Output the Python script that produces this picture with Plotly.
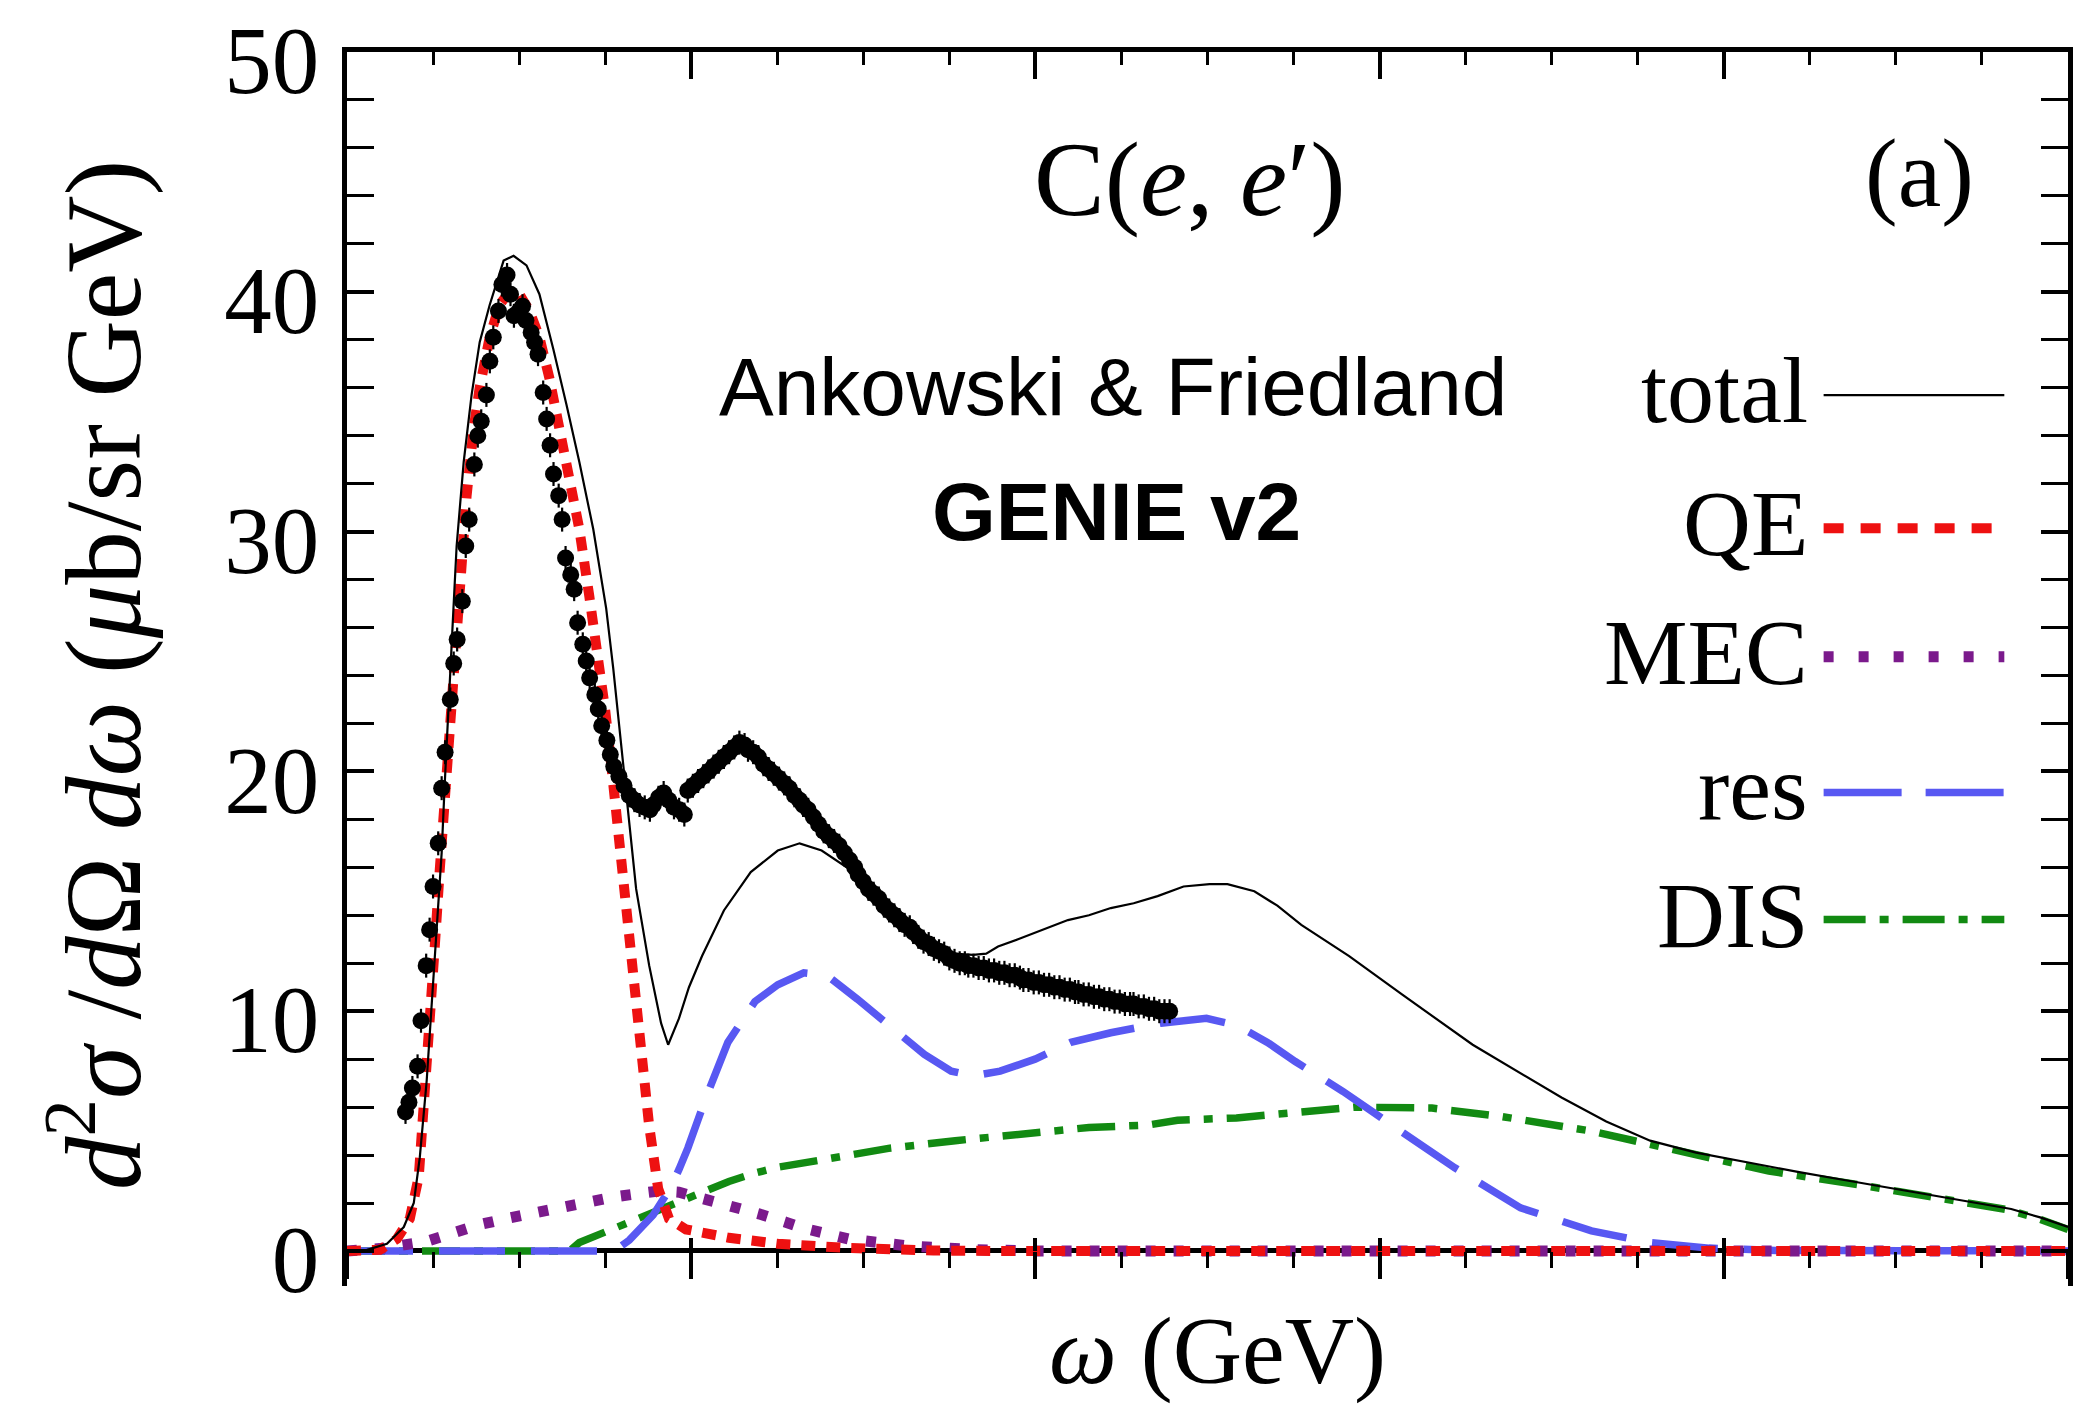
import plotly.graph_objects as go

# ---------------- data (omega in GeV, d2sigma/dOmega domega in mub/sr GeV) ----------------
omega_total = [0.000, 0.0116, 0.0232, 0.0330, 0.0388, 0.0423, 0.0463, 0.0492, 0.0521, 0.0550,
               0.0568, 0.0597, 0.0620, 0.0637, 0.0678, 0.0724, 0.0771, 0.0829, 0.0910, 0.0968,
               0.1043, 0.1118, 0.1199, 0.1275, 0.1350, 0.1431, 0.1506, 0.1547, 0.1582, 0.1622,
               0.1680, 0.1756, 0.1825, 0.1866, 0.1929, 0.1987, 0.2063, 0.2190, 0.2346, 0.2503,
               0.2630, 0.2758, 0.2862, 0.2966, 0.3071, 0.3175, 0.3273, 0.3378, 0.3523, 0.3638,
               0.3714, 0.3783, 0.3899, 0.4050, 0.4189, 0.4311, 0.4438, 0.4571, 0.4710, 0.4861,
               0.5012, 0.5116, 0.5272, 0.5406, 0.5545, 0.5823, 0.6130, 0.6541, 0.6796, 0.7057,
               0.7317, 0.7572, 0.7839, 0.8088, 0.8430, 0.8708, 0.8946, 0.9229, 0.9461, 0.9670,
               0.9838, 1.0000]
xs_total = [0.0, 0.05, 0.3, 1.0, 2.0, 3.9, 7.1, 10.3, 13.5, 16.6,
            19.5, 24.0, 27.0, 29.4, 32.9, 35.7, 37.9, 39.45, 41.3, 41.5,
            41.1, 39.9, 37.6, 35.3, 32.9, 30.1, 26.8, 24.3, 21.8, 19.0,
            15.1, 11.9, 9.5, 8.6, 9.7, 11.0, 12.3, 14.2, 15.8, 16.7,
            17.0, 16.7, 16.2, 15.7, 14.8, 14.0, 13.4, 12.9, 12.4, 12.35,
            12.4, 12.7, 13.0, 13.4, 13.8, 14.0, 14.3, 14.5, 14.8, 15.2,
            15.3, 15.3, 15.0, 14.4, 13.6, 12.3, 10.7, 8.6, 7.5, 6.4,
            5.4, 4.6, 4.1, 3.75, 3.3, 2.95, 2.65, 2.3, 2.0, 1.75,
            1.4, 1.0]

omega_qe = [0.000, 0.0191, 0.0290, 0.0365, 0.0417, 0.0452, 0.0481, 0.0510, 0.0539, 0.0568,
            0.0597, 0.0620, 0.0655, 0.0695, 0.0736, 0.0771, 0.0829, 0.0886, 0.0944, 0.1002,
            0.1060, 0.1118, 0.1176, 0.1234, 0.1292, 0.1350, 0.1408, 0.1466, 0.1501, 0.1535,
            0.1576, 0.1622, 0.1669, 0.1721, 0.1756, 0.1808, 0.1871, 0.1970, 0.2219, 0.2503,
            0.2891, 0.3407, 0.3783, 1.0000]
xs_qe = [0.0, 0.05, 0.5, 1.35, 3.1, 6.3, 9.5, 12.7, 15.9, 19.0,
         22.0, 24.6, 28.7, 31.5, 34.3, 36.0, 38.1, 39.45, 40.0, 39.9,
         39.2, 38.1, 36.4, 34.3, 32.2, 30.1, 27.3, 24.6, 22.5, 20.3,
         17.4, 14.3, 11.1, 7.9, 5.2, 2.6, 1.35, 0.9, 0.55, 0.3,
         0.13, 0.02, 0.0, 0.0]

omega_mec = [0.000, 0.0191, 0.0463, 0.0620, 0.0771, 0.0927, 0.1083, 0.1234, 0.1390, 0.1547,
             0.1698, 0.1813, 0.1929, 0.2063, 0.2242, 0.2393, 0.2549, 0.2654, 0.2914, 0.3273,
             0.3662, 0.4015, 1.0000]
xs_mec = [0.0, 0.1, 0.4, 0.8, 1.1, 1.35, 1.6, 1.85, 2.05, 2.25,
          2.4, 2.5, 2.45, 2.2, 1.9, 1.55, 1.2, 0.95, 0.5, 0.2,
          0.05, 0.0, 0.0]

omega_res = [0.000, 0.1506, 0.1582, 0.1640, 0.1779, 0.1877, 0.1929, 0.1981, 0.2086, 0.2213,
             0.2370, 0.2503, 0.2654, 0.2787, 0.2966, 0.3175, 0.3355, 0.3511, 0.3638, 0.3795,
             0.3998, 0.4206, 0.4438, 0.4728, 0.4994, 0.5174, 0.5348, 0.5510, 0.5788, 0.6095,
             0.6437, 0.6819, 0.7231, 0.7572, 0.7914, 0.8302, 1.0000]
xs_res = [0.0, 0.0, 0.15, 0.45, 1.5, 2.6, 3.4, 4.3, 6.4, 8.7,
          10.4, 11.1, 11.6, 11.5, 10.5, 9.3, 8.2, 7.5, 7.3, 7.5,
          8.0, 8.7, 9.1, 9.5, 9.7, 9.4, 8.7, 7.9, 6.65, 5.13,
          3.47, 1.8, 0.84, 0.35, 0.12, 0.02, 0.0]

omega_dis = [0.000, 0.1292, 0.1350, 0.1506, 0.1640, 0.1779, 0.1929, 0.2086, 0.2219, 0.2370,
             0.2509, 0.2758, 0.3146, 0.3534, 0.3922, 0.4311, 0.4652, 0.4826, 0.5168, 0.5498,
             0.5857, 0.6304, 0.6715, 0.7231, 0.7746, 0.8262, 0.8778, 0.9293, 0.9635, 0.9809,
             1.0000]
xs_dis = [0.0, 0.0, 0.35, 0.8, 1.25, 1.65, 2.1, 2.55, 2.9, 3.25,
          3.5, 3.8, 4.28, 4.6, 4.85, 5.15, 5.25, 5.45, 5.55, 5.8,
          6.0, 5.96, 5.6, 5.0, 4.16, 3.33, 2.77, 2.15, 1.74, 1.4,
          0.9]

omega_data = [0.034, 0.036, 0.038, 0.041, 0.043, 0.046, 0.048, 0.050, 0.053, 0.055,
              0.057, 0.060, 0.062, 0.064, 0.067, 0.069, 0.071, 0.074, 0.076, 0.078,
              0.081, 0.083, 0.085, 0.088, 0.090, 0.093, 0.095, 0.097, 0.100, 0.102,
              0.104, 0.107, 0.109, 0.111, 0.114, 0.116, 0.118, 0.120, 0.123, 0.125,
              0.127, 0.130, 0.132, 0.134, 0.137, 0.139, 0.141, 0.144, 0.146, 0.148,
              0.151, 0.153, 0.155, 0.158, 0.161, 0.164, 0.167, 0.170, 0.173, 0.176,
              0.178, 0.181, 0.184, 0.187, 0.190, 0.193, 0.196, 0.198, 0.201, 0.204,
              0.207, 0.210, 0.213, 0.216, 0.219, 0.222, 0.225, 0.228, 0.231, 0.233,
              0.236, 0.239, 0.242, 0.245, 0.248, 0.251, 0.254, 0.257, 0.260, 0.263,
              0.265, 0.268, 0.271, 0.274, 0.277, 0.280, 0.283, 0.286, 0.289, 0.292,
              0.295, 0.297, 0.300, 0.303, 0.306, 0.309, 0.312, 0.315, 0.318, 0.321,
              0.324, 0.327, 0.329, 0.332, 0.335, 0.338, 0.341, 0.344, 0.347, 0.350,
              0.353, 0.356, 0.359, 0.361, 0.364, 0.367, 0.370, 0.373, 0.376, 0.379,
              0.382, 0.385, 0.388, 0.391, 0.393, 0.396, 0.399, 0.402, 0.405, 0.408,
              0.411, 0.414, 0.417, 0.420, 0.423, 0.425, 0.428, 0.431, 0.434, 0.437,
              0.440, 0.443, 0.446, 0.449, 0.452, 0.455, 0.457, 0.460, 0.463, 0.466,
              0.469, 0.472, 0.475, 0.478]
xs_data = [5.8, 6.2, 6.8, 7.7, 9.6, 11.9, 13.4, 15.2, 17.0, 19.3,
           20.8, 23.0, 24.5, 25.5, 27.1, 29.4, 30.5, 32.8, 34.0, 34.6,
           35.7, 37.1, 38.1, 39.2, 40.3, 40.7, 39.9, 39.0, 39.2, 39.4,
           38.8, 38.3, 37.9, 37.4, 35.8, 34.7, 33.6, 32.4, 31.5, 30.5,
           28.9, 28.2, 27.6, 26.2, 25.3, 24.6, 23.9, 23.2, 22.6, 21.9,
           21.3, 20.7, 20.2, 19.8, 19.4, 19.0, 18.8, 18.6, 18.5, 18.4,
           18.6, 18.9, 19.1, 18.8, 18.5, 18.4, 18.2, 19.2, 19.4, 19.6,
           19.8, 20.0, 20.2, 20.4, 20.6, 20.8, 21.0, 21.2, 21.1, 20.9,
           20.8, 20.6, 20.3, 20.1, 19.9, 19.7, 19.5, 19.3, 19.0, 18.8,
           18.6, 18.4, 18.1, 17.8, 17.5, 17.3, 17.1, 16.9, 16.6, 16.3,
           16.0, 15.7, 15.4, 15.1, 14.9, 14.7, 14.4, 14.2, 14.0, 13.8,
           13.6, 13.5, 13.3, 13.1, 12.9, 12.8, 12.6, 12.5, 12.4, 12.2,
           12.1, 12.0, 12.0, 11.9, 11.9, 11.8, 11.8, 11.7, 11.7, 11.6,
           11.6, 11.5, 11.5, 11.4, 11.3, 11.3, 11.2, 11.2, 11.1, 11.1,
           11.0, 11.0, 10.9, 10.9, 10.8, 10.8, 10.7, 10.7, 10.6, 10.6,
           10.5, 10.5, 10.4, 10.4, 10.3, 10.3, 10.3, 10.2, 10.2, 10.1,
           10.1, 10.0, 10.0, 10.0]

y_ticks = [0, 10, 20, 30, 40, 50]
legend_labels = ["total", "QE", "MEC", "res", "DIS"]

# ---------------- styles ----------------
X_RANGE = [0.0, 1.0]
Y_RANGE = [-1.46, 50.0]
SERIF = "Liberation Serif"
SANS = "Liberation Sans"

styles = {
    "total": dict(color="black", width=2.2, dash="solid"),
    "QE": dict(color="#ee1111", width=10, dash="14px,11px"),
    "MEC": dict(color="#7b1a8c", width=11, dash="10px,18px"),
    "res": dict(color="#5858f2", width=7.5, dash="66px,26px"),
    "DIS": dict(color="#128a12", width=7.5, dash="38px,14px,9px,14px"),
}
legend_dash = {
    "total": "solid",
    "QE": "20px,17px",
    "MEC": "10px,25px",
    "res": "78px,24px",
    "DIS": "42px,14px,9px,14px",
}

fig = go.Figure()

series = [
    ("DIS", omega_dis, xs_dis),
    ("res", omega_res, xs_res),
    ("MEC", omega_mec, xs_mec),
    ("QE", omega_qe, xs_qe),
]
for name, xv, yv in series:
    fig.add_trace(go.Scatter(x=xv, y=yv, mode="lines", name=name,
                             line=styles[name], showlegend=False, hoverinfo="skip"))

fig.add_trace(go.Scatter(
    x=omega_data, y=xs_data, mode="markers", name="data", showlegend=False,
    marker=dict(color="black", size=17, symbol="circle"),
    error_y=dict(type="constant", value=0.5, color="black", thickness=2.2, width=0),
    hoverinfo="skip"))

fig.add_trace(go.Scatter(x=omega_total, y=xs_total, mode="lines", name="total",
                         line=styles["total"], showlegend=False, hoverinfo="skip"))

# helper traces so that the tick-only axes at y = 0 exist
for ax in ("x2", "x3"):
    fig.add_trace(go.Scatter(x=X_RANGE, y=[None, None], xaxis=ax, yaxis="y",
                             mode="lines", showlegend=False, hoverinfo="skip"))

zero_pos = (0 - Y_RANGE[0]) / (Y_RANGE[1] - Y_RANGE[0])

fig.update_layout(
    width=2080, height=1405,
    margin=dict(l=347, r=7, t=52, b=119, pad=0),
    paper_bgcolor="white", plot_bgcolor="white",
    font=dict(family=SERIF, color="black"),
    xaxis=dict(range=X_RANGE, side="top", showline=True, linecolor="black", linewidth=4.5,
               mirror=False, ticks="inside", ticklen=27, tickwidth=3.5, tickcolor="black",
               tick0=0, dtick=0.2, showticklabels=False, showgrid=False, zeroline=False,
               minor=dict(dtick=0.05, ticks="inside", ticklen=13, tickwidth=3, tickcolor="black",
                          showgrid=False)),
    xaxis2=dict(range=X_RANGE, overlaying="x", anchor="free", position=zero_pos, side="bottom",
                showline=False, ticks="outside", ticklen=27, tickwidth=3.5, tickcolor="black",
                tick0=0, dtick=0.2, showticklabels=False, showgrid=False, zeroline=False,
                minor=dict(dtick=0.05, ticks="outside", ticklen=16, tickwidth=3, tickcolor="black",
                           showgrid=False)),
    xaxis3=dict(range=X_RANGE, overlaying="x", anchor="free", position=zero_pos, side="bottom",
                showline=False, ticks="inside", ticklen=13, tickwidth=3.5, tickcolor="black",
                tick0=0, dtick=0.2, showticklabels=False, showgrid=False, zeroline=False),
    yaxis=dict(range=Y_RANGE, showline=True, linecolor="black", linewidth=4.5, mirror="allticks",
               ticks="inside", ticklen=27, tickwidth=3.5, tickcolor="black",
               tickvals=y_ticks, ticktext=[str(v) for v in y_ticks],
               tickfont=dict(family=SERIF, size=95, color="black"), ticklabelstandoff=4,
               ticklabelshift=8, ticklabeloverflow="allow",
               showgrid=False, zeroline=True, zerolinecolor="black", zerolinewidth=4.5,
               minor=dict(dtick=2, ticks="inside", ticklen=13, tickwidth=3, tickcolor="black",
                          showgrid=False)),
)

ann = []
# axis titles
ann.append(dict(text="<i>d</i><sup>2</sup><i>σ</i> /<i>d</i>Ω <i>dω</i> (<i>μ</i>b/sr GeV)",
                xref="paper", yref="paper", x=-0.146, y=0.495, textangle=-90,
                xanchor="center", yanchor="middle", showarrow=False,
                font=dict(family=SERIF, size=107, color="black")))
ann.append(dict(text="<i>ω</i> (GeV)", xref="paper", yref="paper", x=0.506, y=-0.052,
                xanchor="center", yanchor="middle", showarrow=False,
                font=dict(family=SERIF, size=96, color="black")))
# panel texts
ann.append(dict(text="C(<i>e</i>, <i>e</i>′)", xref="paper", yref="paper", x=0.490, y=0.897,
                xanchor="center", yanchor="middle", showarrow=False,
                font=dict(family=SERIF, size=106, color="black")))
ann.append(dict(text="(a)", xref="paper", yref="paper", x=0.914, y=0.902,
                xanchor="center", yanchor="middle", showarrow=False,
                font=dict(family=SERIF, size=98, color="black")))
ann.append(dict(text="Ankowski &amp; Friedland", xref="paper", yref="paper", x=0.445, y=0.729,
                xanchor="center", yanchor="middle", showarrow=False,
                font=dict(family=SANS, size=82, color="black")))
ann.append(dict(text="<b>GENIE v2</b>", xref="paper", yref="paper", x=0.447, y=0.628,
                xanchor="center", yanchor="middle", showarrow=False,
                font=dict(family=SANS, size=82, color="black")))

# legend (text on the left, line sample on the right)
legend_y = [0.722, 0.614, 0.510, 0.400, 0.297]
shapes = []
for lab, ly in zip(legend_labels, legend_y):
    ann.append(dict(text=lab, xref="paper", yref="paper", x=0.850, y=ly + 0.004,
                    xanchor="right", yanchor="middle", showarrow=False,
                    font=dict(family=SERIF, size=94, color="black")))
    st = styles[lab]
    shapes.append(dict(type="line", xref="paper", yref="paper", x0=0.858, x1=0.963,
                       y0=ly, y1=ly, line=dict(color=st["color"], width=st["width"],
                                               dash=legend_dash[lab])))

fig.update_layout(annotations=ann, shapes=shapes)

fig.write_html("out.html")
